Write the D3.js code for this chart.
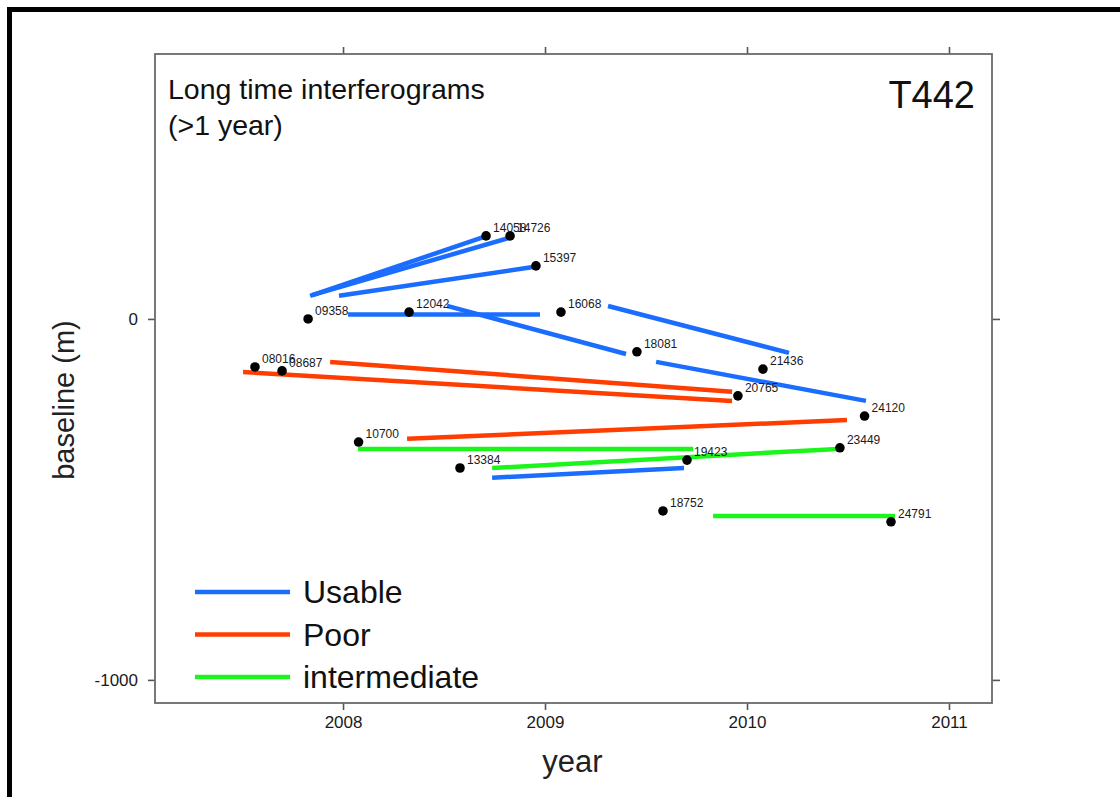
<!DOCTYPE html>
<html>
<head>
<meta charset="utf-8">
<script src="https://cdn.jsdelivr.net/npm/d3@7"></script>
<style>
  html, body { margin: 0; padding: 0; background: #fff; }
  svg { display: block; font-family: "Liberation Sans", Arial, Helvetica, sans-serif; }
</style>
</head>
<body>
<svg id="chart" width="1120" height="797"></svg>
<script>
// ALOS acquisitions on track 442: orbit number, date (decimal year), perpendicular baseline (m)
const orbits    = ["08016", "08687", "09358", "10700", "12042", "13384", "14058", "14726", "15397",
                   "16068", "18081", "18752", "19423", "20765", "21436", "23449", "24120", "24791"];
const acqYears  = [2007.564, 2007.698, 2007.827, 2008.077, 2008.327, 2008.579, 2008.708, 2008.827, 2008.955,
                   2009.079, 2009.455, 2009.584, 2009.703, 2009.955, 2010.079, 2010.460, 2010.582, 2010.713];
const baselines = [-133, -144, 0, -341, 19, -413, 230, 230, 147,
                   19, -91, -532, -391, -213, -139, -357, -269, -562];

// Long-time interferogram pairs: start/end date and start/end baseline, per quality class
const usableStart   = [2007.837, 2007.847, 2007.980, 2008.025, 2008.515, 2009.312, 2009.550, 2008.738];
const usableEnd     = [2008.713, 2008.837, 2008.941, 2008.975, 2009.401, 2010.208, 2010.589, 2009.688];
const usableBStart  = [64, 66, 64, 12, 36, 36, -119, -440];
const usableBEnd    = [230, 227, 144, 12, -97, -94, -227, -413];

const poorStart     = [2007.505, 2007.936, 2008.317];
const poorEnd       = [2009.926, 2009.926, 2010.495];
const poorBStart    = [-147, -119, -332];
const poorBEnd      = [-227, -202, -280];

const interStart    = [2008.074, 2008.738, 2009.832];
const interEnd      = [2009.733, 2010.450, 2010.733];
const interBStart   = [-360, -413, -546];
const interBEnd     = [-360, -360, -546];

const xTicks = [2008, 2009, 2010, 2011];
const yTicks = [0, -1000];
const legendLabels = ["Usable", "Poor", "intermediate"];
const colors = { Usable: "#1a6dff", Poor: "#ff3d00", intermediate: "#1cf51c" };

const svg = d3.select("#chart");
const W = 1120, H = 797;
const m = { left: 155, right: 992, top: 54, bottom: 703 };

const x = d3.scaleLinear().domain([2007.069, 2011.213]).range([m.left, m.right]);
const y = d3.scaleLinear().domain([-1064, 734]).range([m.bottom, m.top]);

// outer frame
svg.append("path")
  .attr("d", `M${W + 5},9.5H9.5V${H + 5}`)
  .attr("fill", "none").attr("stroke", "#000").attr("stroke-width", 5);

// axes (ticks on all four sides, labels on bottom and left)
const tickColor = "#555";
const plain = d => String(d);
function styleAxis(g) {
  g.select(".domain").remove();
  g.selectAll(".tick line").attr("stroke", tickColor).attr("stroke-width", 1.6);
  g.selectAll(".tick text").attr("fill", "#1a1a1a").attr("font-size", 17)
    .attr("font-family", "'Liberation Sans', Arial, sans-serif");
}
svg.append("g").attr("transform", `translate(0,${m.bottom})`)
  .call(d3.axisBottom(x).tickValues(xTicks).tickFormat(plain).tickSize(7).tickPadding(6))
  .call(styleAxis);
svg.append("g").attr("transform", `translate(0,${m.top})`)
  .call(d3.axisTop(x).tickValues(xTicks).tickFormat("").tickSize(7))
  .call(styleAxis);
svg.append("g").attr("transform", `translate(${m.left},0)`)
  .call(d3.axisLeft(y).tickValues(yTicks).tickFormat(plain).tickSize(7).tickPadding(10))
  .call(styleAxis);
svg.append("g").attr("transform", `translate(${m.right},0)`)
  .call(d3.axisRight(y).tickValues(yTicks).tickFormat("").tickSize(8))
  .call(styleAxis);

// plot box
svg.append("rect")
  .attr("x", m.left).attr("y", m.top).attr("width", m.right - m.left).attr("height", m.bottom - m.top)
  .attr("fill", "none").attr("stroke", "#6a6a6a").attr("stroke-width", 1.8);

// interferogram segments
const segments = [];
usableStart.forEach((s, i) => segments.push({ cls: "Usable", x1: s, x2: usableEnd[i], y1: usableBStart[i], y2: usableBEnd[i] }));
poorStart.forEach((s, i) => segments.push({ cls: "Poor", x1: s, x2: poorEnd[i], y1: poorBStart[i], y2: poorBEnd[i] }));
interStart.forEach((s, i) => segments.push({ cls: "intermediate", x1: s, x2: interEnd[i], y1: interBStart[i], y2: interBEnd[i] }));

const plot = svg.append("g");
plot.selectAll("line.pair").data(segments).join("line")
  .attr("class", "pair")
  .attr("x1", d => x(d.x1)).attr("x2", d => x(d.x2))
  .attr("y1", d => y(d.y1)).attr("y2", d => y(d.y2))
  .attr("stroke", d => colors[d.cls]).attr("stroke-width", 4.5);

// acquisitions
const acq = orbits.map((o, i) => ({ orbit: o, t: acqYears[i], b: baselines[i] }));
plot.selectAll("circle.acq").data(acq).join("circle")
  .attr("class", "acq")
  .attr("cx", d => x(d.t)).attr("cy", d => y(d.b)).attr("r", 4.8)
  .attr("fill", "#000");
plot.selectAll("text.orbit").data(acq).join("text")
  .attr("class", "orbit")
  .attr("x", d => x(d.t) + 7).attr("y", d => y(d.b) - 4)
  .attr("font-size", 12).attr("fill", "#1a1a1a")
  .text(d => d.orbit);

// annotation text
svg.append("text").attr("x", 168).attr("y", 99).attr("font-size", 28.5).attr("fill", "#111")
  .text("Long time interferograms");
svg.append("text").attr("x", 168).attr("y", 135).attr("font-size", 28.5).attr("fill", "#111")
  .text("(>1 year)");
svg.append("text").attr("x", 975).attr("y", 108).attr("font-size", 38).attr("fill", "#111")
  .attr("text-anchor", "end").text("T442");

// axis titles
svg.append("text").attr("x", (m.left + m.right) / 2 - 1).attr("y", 772).attr("font-size", 31)
  .attr("text-anchor", "middle").attr("fill", "#222").text("year");
svg.append("text").attr("transform", "translate(74,400) rotate(-90)").attr("font-size", 29)
  .attr("text-anchor", "middle").attr("fill", "#222").text("baseline (m)");

// legend
const legend = svg.append("g");
legendLabels.forEach((lab, i) => {
  const ly = 592 + i * 42.5;
  legend.append("line").attr("x1", 195).attr("x2", 290).attr("y1", ly).attr("y2", ly)
    .attr("stroke", colors[lab]).attr("stroke-width", 4.5);
  legend.append("text").attr("x", 303).attr("y", ly + 11).attr("font-size", 32)
    .attr("fill", "#111").text(lab);
});
</script>
</body>
</html>
